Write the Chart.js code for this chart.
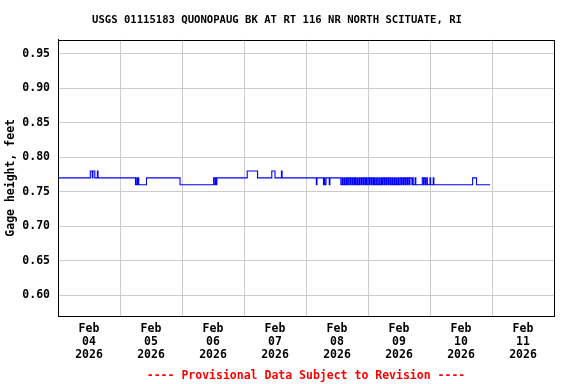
<!DOCTYPE html>
<html><head><meta charset="utf-8">
<script src="https://cdn.jsdelivr.net/npm/chart.js@4/dist/chart.umd.min.js"></script>
<style>html,body{margin:0;padding:0;background:#fff}</style>
</head><body>
<canvas id="c" width="576" height="384"></canvas>
<script>
const chartTitle = 'USGS 01115183 QUONOPAUG BK AT RT 116 NR NORTH SCITUATE, RI';
const footerText = '---- Provisional Data Subject to Revision ----';
const yAxisTitle = 'Gage height, feet';

// Hours since 2026-02-04 00:00 at which the gage reading changed, and the new reading (feet)
const changeHours = [
  0, 12.5, 13.25, 13.5, 14.25, 15.25, 15.5,
  30.0, 30.5, 30.75, 31.0, 31.25, 34.25,
  47.25, 60.25, 60.75, 61.0, 61.25, 61.5,
  73.25, 77.25, 82.75, 84.0, 86.5, 86.75,
  100.0, 100.25, 102.75, 103.0, 103.25, 103.75, 105.0, 105.25,
  109.5, 110.0, 110.25, 110.75, 111.0, 111.5, 111.75, 112.0, 112.5, 112.75,
  113.25, 113.5, 114.0, 114.25, 114.75, 115.0, 115.25, 115.75, 116.0, 116.5,
  116.75, 117.0, 117.5, 117.75, 118.25, 118.5, 119.0, 119.25, 119.5, 120.0,
  120.5, 120.75, 121.25, 121.5, 122.0, 122.25, 122.5, 123.0, 123.25, 123.75,
  124.0, 124.5, 124.75, 125.25, 125.5, 125.75, 126.25, 126.5, 127.0, 127.25,
  127.75, 128.0, 128.5, 128.75, 129.0, 129.5, 129.75, 130.25, 130.5, 131.0,
  131.25, 131.75, 132.0, 132.5, 133.0, 133.25, 133.75, 134.0, 134.5, 134.75,
  135.25, 135.5, 136.0, 136.25, 137.0, 137.25, 137.5,
  138.25, 138.5, 141.0, 141.5, 141.75, 142.25, 142.75, 143.0,
  144.0, 144.25, 145.25, 145.5,
  160.5, 162.0, 167.25
];
const gageFeet = [
  0.77, 0.78, 0.77, 0.78, 0.77, 0.78, 0.77,
  0.76, 0.77, 0.76, 0.77, 0.76, 0.77,
  0.76, 0.77, 0.76, 0.77, 0.76, 0.77,
  0.78, 0.77, 0.78, 0.77, 0.78, 0.77,
  0.76, 0.77, 0.76, 0.77, 0.76, 0.77, 0.76, 0.77,
  0.76, 0.77, 0.76, 0.77, 0.76, 0.77, 0.76, 0.77, 0.76, 0.77,
  0.76, 0.77, 0.76, 0.77, 0.76, 0.77, 0.76, 0.77, 0.76, 0.77,
  0.76, 0.77, 0.76, 0.77, 0.76, 0.77, 0.76, 0.77, 0.76, 0.77,
  0.76, 0.77, 0.76, 0.77, 0.76, 0.77, 0.76, 0.77, 0.76, 0.77,
  0.76, 0.77, 0.76, 0.77, 0.76, 0.77, 0.76, 0.77, 0.76, 0.77,
  0.76, 0.77, 0.76, 0.77, 0.76, 0.77, 0.76, 0.77, 0.76, 0.77,
  0.76, 0.77, 0.76, 0.77, 0.76, 0.77, 0.76, 0.77, 0.76, 0.77,
  0.76, 0.77, 0.76, 0.77, 0.76, 0.77, 0.76,
  0.77, 0.76, 0.77, 0.76, 0.77, 0.76, 0.77, 0.76,
  0.77, 0.76, 0.77, 0.76,
  0.77, 0.76, 0.76
];

const xTickHours = [0, 12, 24, 36, 48, 60, 72, 84, 96, 108, 120, 132, 144, 156, 168, 180, 192];
const dayGridHours = [24, 48, 72, 96, 120, 144, 168];
const dayLabelHours = [12, 36, 60, 84, 108, 132, 156, 180];
const dayLabels = [
  ['Feb', '04', '2026'], ['Feb', '05', '2026'], ['Feb', '06', '2026'], ['Feb', '07', '2026'],
  ['Feb', '08', '2026'], ['Feb', '09', '2026'], ['Feb', '10', '2026'], ['Feb', '11', '2026']
];
const yTicks = [0.60, 0.65, 0.70, 0.75, 0.80, 0.85, 0.90, 0.95];

const points = changeHours.map((h, i) => ({ x: h, y: gageFeet[i] }));
const FONT = 'DejaVu Sans Mono';

const framePlugin = {
  id: 'frame',
  afterDraw(chart) {
    const { ctx, chartArea: a } = chart;
    const l = Math.round(a.left), t = Math.round(a.top), r = Math.round(a.right), b = Math.round(a.bottom);
    ctx.save();
    ctx.strokeStyle = '#000';
    ctx.lineWidth = 1;
    ctx.strokeRect(l + 0.5, t + 0.5, r - l, b - t);
    ctx.restore();
  }
};

new Chart(document.getElementById('c'), {
  type: 'line',
  data: {
    datasets: [{
      data: points,
      borderColor: '#0000ff',
      borderWidth: 1.1,
      pointRadius: 0,
      stepped: true,
      fill: false
    }]
  },
  options: {
    responsive: false,
    animation: false,
    devicePixelRatio: 1,
    layout: { padding: { left: 0, right: 22, top: 0, bottom: 0 } },
    plugins: {
      legend: { display: false },
      tooltip: { enabled: false },
      title: {
        display: true, text: chartTitle, color: '#000',
        font: { family: FONT, size: 10.6, weight: 'bold', lineHeight: 1.2 },
        padding: { top: 14, bottom: 13 }
      },
      subtitle: {
        display: true, position: 'bottom', fullSize: false, text: footerText, color: '#ff0000',
        font: { family: FONT, size: 11.5, weight: 'bold', lineHeight: 1.2 },
        padding: { top: 0, bottom: 1 }
      }
    },
    scales: {
      x: {
        type: 'linear', min: 0, max: 192,
        afterBuildTicks: s => { s.ticks = xTickHours.map(v => ({ value: v })); },
        afterFit: s => { s.height = 53.2; },
        grid: {
          drawTicks: false,
          lineWidth: 1,
          color: ctx => (ctx.tick && dayGridHours.includes(ctx.tick.value)) ? '#cccccc' : 'rgba(0,0,0,0)'
        },
        border: { display: true, color: '#000', width: 1 },
        ticks: {
          autoSkip: false, maxRotation: 0, minRotation: 0, padding: 7, color: '#000',
          font: { family: FONT, size: 11.5, weight: 'bold', lineHeight: '13px' },
          callback: v => { const i = dayLabelHours.indexOf(v); return i >= 0 ? dayLabels[i] : ''; }
        }
      },
      y: {
        type: 'linear', min: 0.57, max: 0.97,
        afterBuildTicks: s => { s.ticks = yTicks.map(v => ({ value: v })); },
        afterFit: s => { s.width = 58; },
        grid: { drawTicks: false, lineWidth: 1, color: '#cccccc' },
        border: { display: true, color: '#000', width: 1 },
        ticks: {
          padding: 8, color: '#000',
          font: { family: FONT, size: 11.5, weight: 'bold' },
          callback: v => Number(v).toFixed(2)
        },
        title: {
          display: true, text: yAxisTitle, color: '#000',
          font: { family: FONT, size: 11.5, weight: 'bold', lineHeight: 1.2 },
          padding: { top: 4, bottom: 0 }
        }
      }
    }
  },
  plugins: [framePlugin]
});
</script>
</body></html>
